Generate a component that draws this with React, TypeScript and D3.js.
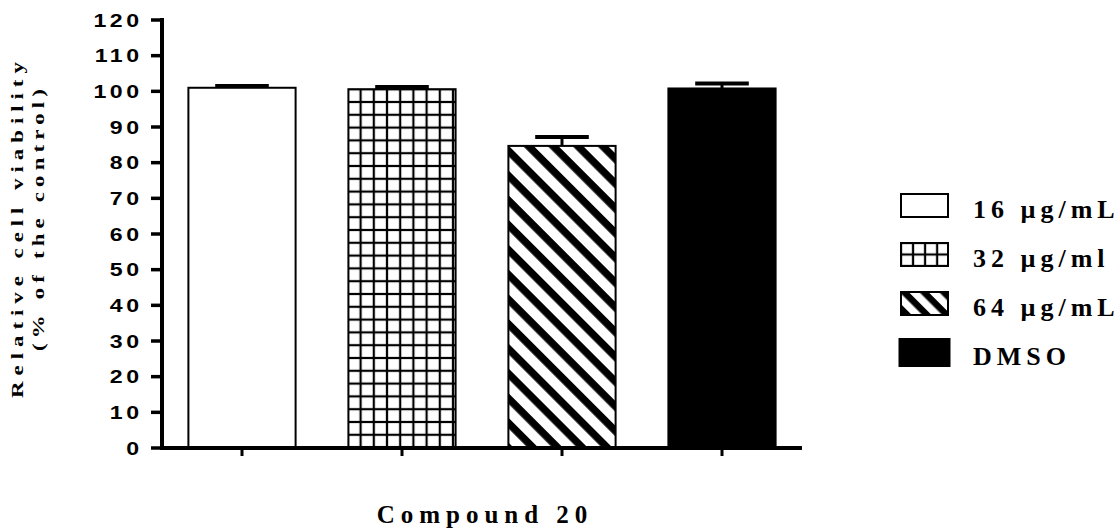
import React from "react";
import * as d3 from "d3";

// Cell viability after treatment with compound 20
const groups = ["16 µg/mL", "32 µg/ml", "64 µg/mL", "DMSO"];
const means = [101.0, 100.6, 84.7, 100.8];
const errors = [0.5, 0.6, 2.5, 1.4];
const fills = ["white", "grid", "stripes", "black"];
const yTicks = [0, 10, 20, 30, 40, 50, 60, 70, 80, 90, 100, 110, 120];

const W = 1120;
const H = 529;
const plotLeft = 162;
const plotRight = 802;
const plotTop = 20;
const plotBottom = 448;

const x = d3
  .scaleBand<string>()
  .domain(groups)
  .range([plotLeft, plotRight])
  .paddingInner(0.33)
  .paddingOuter(0.165);

const y = d3.scaleLinear().domain([0, 120]).range([plotBottom, plotTop]);

const legendY = d3
  .scaleBand<string>()
  .domain(groups)
  .range([181, 377])
  .padding(0);

const sansBold = "'Liberation Sans', Arial, sans-serif";
const serifBold = "'Liberation Serif', 'Times New Roman', serif";

function fillFor(kind: string, id: string) {
  if (kind === "white") return "white";
  if (kind === "black") return "black";
  return `url(#${id})`;
}

function GridPattern({ id, ox, oy, w, h }: { id: string; ox: number; oy: number; w: number; h: number }) {
  return (
    <pattern id={id} patternUnits="userSpaceOnUse" x={ox} y={oy} width={w} height={h}>
      <rect width={w} height={h} fill="white" />
      <line x1={0} y1={0} x2={0} y2={h} stroke="black" strokeWidth={2.2} />
      <line x1={w} y1={0} x2={w} y2={h} stroke="black" strokeWidth={2.2} />
      <line x1={0} y1={0} x2={w} y2={0} stroke="black" strokeWidth={2.2} />
      <line x1={0} y1={h} x2={w} y2={h} stroke="black" strokeWidth={2.2} />
    </pattern>
  );
}

function StripePattern({ id, ox, oy, period, thick }: { id: string; ox: number; oy: number; period: number; thick: number }) {
  return (
    <pattern
      id={id}
      patternUnits="userSpaceOnUse"
      x={ox}
      y={oy}
      width={period}
      height={period}
      patternTransform="rotate(45)"
    >
      <rect width={period} height={period} fill="white" />
      <rect x={0} y={0} width={period} height={thick} fill="black" />
    </pattern>
  );
}

export default function App() {
  const bw = x.bandwidth();
  const tickSx = 1.25;
  const tickLs = 2.8;
  const legBoxW = 47;
  const legBoxH = 23;
  const legBoxX = 901;
  const titleSx = 1.35;

  return (
    <svg
      width={W}
      height={H}
      viewBox={`0 0 ${W} ${H}`}
      style={{ position: "absolute", left: 0, top: 0, background: "white" }}
    >
      <defs>
        {groups.map((g, i) => {
          const x0 = x(g)!;
          const y0 = y(means[i]);
          if (fills[i] === "grid")
            return <GridPattern key={g} id={`bar-fill-${i}`} ox={x0 - 1} oy={y0} w={13.2} h={12.8} />;
          if (fills[i] === "stripes")
            return <StripePattern key={g} id={`bar-fill-${i}`} ox={x0} oy={y0} period={17.5} thick={7.5} />;
          return null;
        })}
        {groups.map((g, i) => {
          const ly = legendY(g)! + legendY.bandwidth() / 2 - legBoxH / 2;
          if (fills[i] === "grid")
            return <GridPattern key={g} id={`leg-fill-${i}`} ox={legBoxX} oy={ly} w={legBoxW / 4 + 0.3} h={legBoxH / 2} />;
          if (fills[i] === "stripes")
            return <StripePattern key={g} id={`leg-fill-${i}`} ox={legBoxX} oy={ly} period={14} thick={6.5} />;
          return null;
        })}
      </defs>

      {/* bars */}
      {groups.map((g, i) => {
        const x0 = x(g)!;
        const top = y(means[i]);
        return (
          <rect
            key={g}
            x={x0}
            y={top}
            width={bw}
            height={plotBottom - top}
            fill={fillFor(fills[i], `bar-fill-${i}`)}
            stroke="black"
            strokeWidth={2}
          />
        );
      })}

      {/* upper error bars */}
      {groups.map((g, i) => {
        const cx = x(g)! + bw / 2;
        const top = y(means[i]);
        const eTop = y(means[i] + errors[i]);
        const capW = bw / 2;
        return (
          <g key={g}>
            <line x1={cx} x2={cx} y1={top} y2={eTop} stroke="black" strokeWidth={3} />
            <line x1={cx - capW / 2} x2={cx + capW / 2} y1={eTop} y2={eTop} stroke="black" strokeWidth={4} />
          </g>
        );
      })}

      {/* y axis */}
      <line x1={plotLeft} x2={plotLeft} y1={plotTop - 2} y2={plotBottom + 2} stroke="black" strokeWidth={4} />
      {yTicks.map((t) => (
        <g key={t}>
          <line x1={plotLeft - 11} x2={plotLeft} y1={y(t)} y2={y(t)} stroke="black" strokeWidth={3.5} />
          <text
            transform={`translate(${139 + tickLs * tickSx},${y(t)}) scale(${tickSx},1)`}
            dy="0.36em"
            textAnchor="end"
            fontFamily={sansBold}
            fontWeight="bold"
            fontSize={18.5}
            letterSpacing={tickLs}
            fill="black"
          >
            {t}
          </text>
        </g>
      ))}

      {/* x axis */}
      <line x1={plotLeft - 2} x2={plotRight} y1={plotBottom} y2={plotBottom} stroke="black" strokeWidth={4} />
      {groups.map((g) => {
        const cx = x(g)! + bw / 2;
        return <line key={g} x1={cx} x2={cx} y1={plotBottom} y2={plotBottom + 8} stroke="black" strokeWidth={3} />;
      })}

      {/* axis titles */}
      <text
        transform={`translate(23,230) rotate(-90) scale(${titleSx},1)`}
        textAnchor="middle"
        dx={2.2}
        fontFamily={serifBold}
        fontWeight="bold"
        fontSize={17}
        letterSpacing={4.4}
        fill="black"
      >
        Relative cell viability
      </text>
      <text
        transform={`translate(44,220) rotate(-90) scale(${titleSx},1)`}
        textAnchor="middle"
        dx={1.9}
        fontFamily={serifBold}
        fontWeight="bold"
        fontSize={17}
        letterSpacing={3.8}
        fill="black"
      >
        (% of the control)
      </text>
      <text
        x={(plotLeft + plotRight) / 2 + 3}
        y={523}
        textAnchor="middle"
        fontFamily={serifBold}
        fontWeight="bold"
        fontSize={25}
        letterSpacing={6}
        fill="black"
      >
        Compound 20
      </text>

      {/* legend */}
      {groups.map((g, i) => {
        const cy = legendY(g)! + legendY.bandwidth() / 2;
        const isBlack = fills[i] === "black";
        const bwL = isBlack ? 52 : legBoxW;
        const bhL = isBlack ? 29 : legBoxH;
        return (
          <g key={g}>
            <rect
              x={isBlack ? legBoxX - 2.5 : legBoxX}
              y={cy - bhL / 2}
              width={bwL}
              height={bhL}
              fill={fillFor(fills[i], `leg-fill-${i}`)}
              stroke="black"
              strokeWidth={isBlack ? 0 : 2}
            />
            <text
              x={973}
              y={cy + 12.3}
              fontFamily={serifBold}
              fontWeight="bold"
              fontSize={26}
              letterSpacing={5}
              fill="black"
            >
              {g}
            </text>
          </g>
        );
      })}
    </svg>
  );
}
